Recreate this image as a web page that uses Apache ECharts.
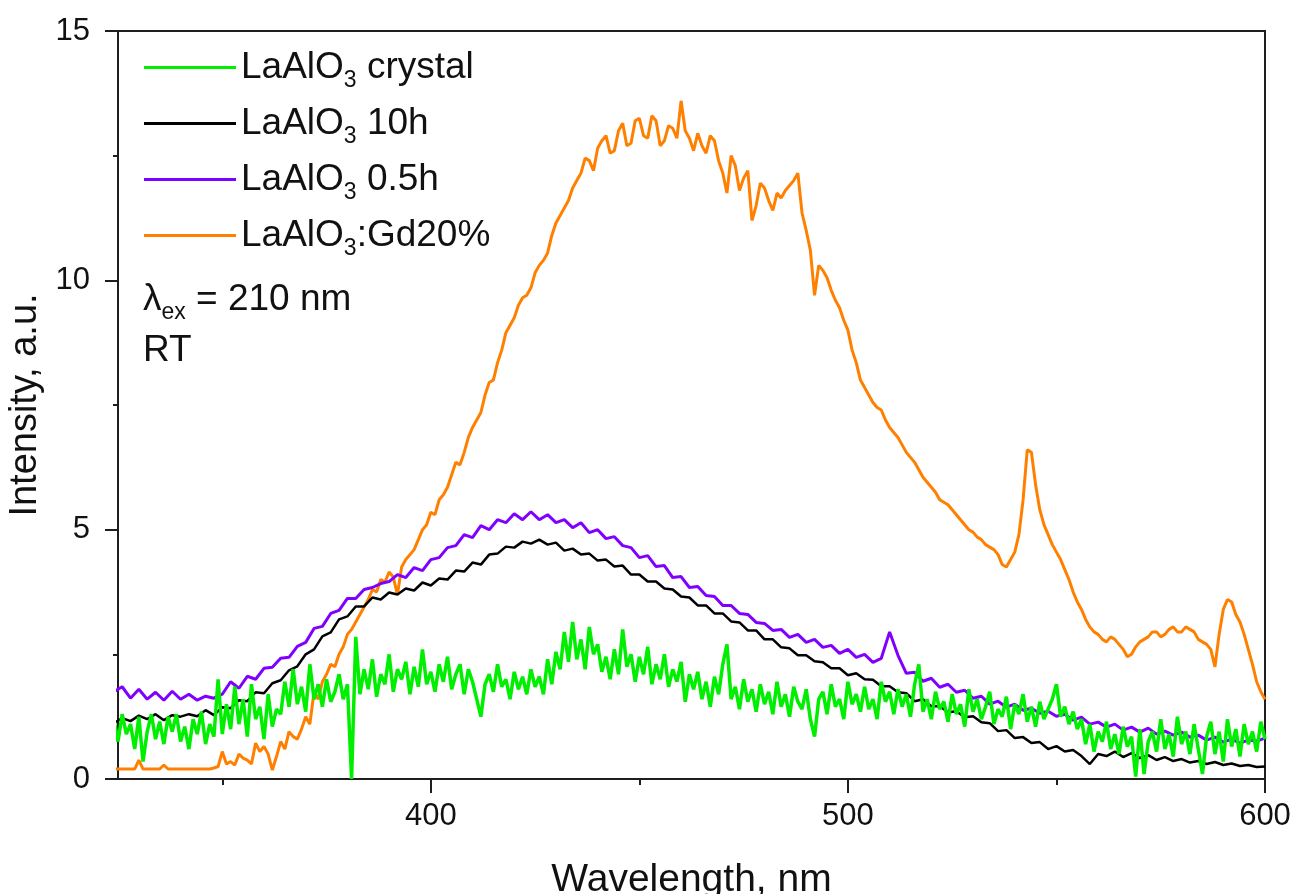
<!DOCTYPE html>
<html><head><meta charset="utf-8">
<script src="https://cdn.jsdelivr.net/npm/echarts@6/dist/echarts.min.js"></script>
<style>html,body{margin:0;padding:0;background:#fff}#chart{width:1295px;height:894px}</style>
</head><body><div id="chart"></div>
<script>
// Wavelength grids (nm): fine = 324,325,...,600 ; coarse = 324,326,...,600
const WL_START = 324, FINE_STEP = 1, COARSE_STEP = 2;

// LaAlO3 crystal (fine grid)
const crystal = [
  1.2,0.75,1.3,0.9,1.1,0.6,1.25,0.35,0.95,1.3,
  0.8,1.15,0.7,1.25,0.95,1.3,0.75,1.05,0.6,1.2,
  0.9,1.35,0.7,1.1,0.85,2.0,0.9,1.5,1.0,1.85,
  1.1,1.6,0.85,1.9,1.2,1.45,0.8,1.7,1.05,1.4,
  1.3,1.95,1.45,2.2,1.5,1.85,1.35,2.3,1.6,1.9,
  1.45,2.0,1.55,1.75,2.1,1.6,1.9,0.0,2.85,1.7,
  2.2,1.8,2.4,1.65,2.1,1.9,2.5,1.75,2.2,2.0,
  2.35,1.7,2.25,1.85,2.6,1.9,2.15,1.75,2.3,1.95,
  2.45,1.8,2.1,2.3,1.7,2.2,1.95,1.6,1.25,1.9,
  2.1,1.75,2.3,1.85,2.0,1.6,2.15,1.8,2.05,1.7,
  2.2,1.85,2.05,1.7,2.4,1.9,2.55,2.2,2.95,2.35,
  3.15,2.4,2.8,2.2,3.05,2.5,2.7,2.15,2.45,2.0,
  2.6,2.1,3.0,2.25,2.5,1.95,2.45,2.1,2.65,1.9,
  2.3,2.0,2.5,1.85,2.2,1.95,2.35,1.55,2.1,1.8,
  2.15,1.6,1.95,1.45,2.05,1.7,2.3,2.7,1.6,1.85,
  1.4,2.0,1.55,1.8,1.35,1.9,1.5,1.75,1.3,1.95,
  1.45,1.7,1.25,1.85,1.55,1.4,1.8,1.2,0.85,1.6,
  1.75,1.3,1.9,1.45,1.6,1.2,1.95,1.5,1.7,1.35,
  1.85,1.4,1.6,1.2,1.95,1.55,1.75,1.3,1.8,1.45,
  1.7,1.25,1.9,2.3,1.35,1.6,1.2,1.75,1.4,1.55,
  1.15,1.7,1.3,1.5,1.05,1.8,1.35,1.6,1.2,1.45,
  1.75,1.1,1.4,1.25,1.65,1.0,1.5,1.3,1.7,1.15,
  1.45,1.05,1.55,1.2,1.4,1.6,1.9,1.25,1.45,1.1,
  1.35,1.0,1.2,0.7,1.1,0.55,0.95,0.75,1.15,0.6,
  0.9,0.5,1.05,0.65,0.85,0.05,1.0,0.1,0.75,0.95,
  0.55,1.2,0.6,0.9,0.45,1.25,0.7,0.95,0.5,1.1,
  0.6,0.1,0.85,1.15,0.5,0.95,0.35,1.2,0.65,1.0,
  0.45,1.1,0.7,0.95,0.55,1.15,0.8
];

// LaAlO3 10h (coarse grid)
const h10 = [
  1.12,1.22,1.16,1.27,1.2,1.3,1.18,1.28,1.25,1.3,
  1.26,1.38,1.28,1.44,1.42,1.58,1.56,1.74,1.72,1.92,
  1.98,2.18,2.26,2.5,2.6,2.86,2.94,3.2,3.26,3.46,
  3.46,3.64,3.6,3.74,3.7,3.82,3.78,3.94,3.88,4.02,
  4.0,4.18,4.16,4.34,4.3,4.5,4.52,4.66,4.64,4.76,
  4.72,4.8,4.7,4.74,4.58,4.62,4.5,4.52,4.38,4.4,
  4.26,4.28,4.1,4.1,3.96,3.96,3.82,3.8,3.66,3.64,
  3.48,3.48,3.32,3.32,3.16,3.14,2.98,2.98,2.8,2.8,
  2.64,2.62,2.48,2.48,2.36,2.34,2.22,2.22,2.08,2.12,
  2.0,1.99,1.86,1.86,1.74,1.72,1.56,1.6,1.46,1.46,
  1.34,1.36,1.24,1.26,1.14,1.12,0.96,0.98,0.82,0.84,
  0.72,0.74,0.6,0.66,0.55,0.58,0.46,0.3,0.5,0.46,
  0.55,0.44,0.52,0.42,0.48,0.38,0.44,0.36,0.4,0.33,
  0.36,0.3,0.34,0.28,0.31,0.26,0.28,0.24,0.25
];

// LaAlO3 0.5h (coarse grid)
const h05 = [
  1.75,1.85,1.62,1.8,1.6,1.74,1.58,1.76,1.6,1.7,
  1.58,1.66,1.62,1.7,1.95,1.82,2.06,2.0,2.22,2.24,
  2.42,2.44,2.66,2.74,3.02,3.06,3.32,3.38,3.62,3.62,
  3.8,3.84,3.92,3.96,4.1,4.04,4.24,4.18,4.4,4.44,
  4.64,4.68,4.9,4.84,5.08,5.0,5.2,5.14,5.32,5.2,
  5.36,5.2,5.3,5.14,5.2,5.04,5.14,4.94,5.0,4.82,
  4.86,4.68,4.64,4.44,4.48,4.26,4.28,4.04,4.06,3.84,
  3.86,3.68,3.66,3.48,3.48,3.32,3.3,3.14,3.12,2.98,
  3.0,2.84,2.9,2.74,2.8,2.64,2.68,2.52,2.6,2.44,
  2.5,2.34,2.42,2.95,2.48,2.12,2.14,1.96,2.02,1.84,
  1.9,1.74,1.78,1.62,1.66,1.5,1.56,1.44,1.5,1.38,
  1.42,1.32,1.36,1.26,1.3,1.18,1.24,1.1,1.14,1.04,
  1.1,0.98,1.04,0.94,1.02,0.9,0.96,0.88,0.94,0.84,
  0.88,0.78,0.84,0.74,0.8,0.72,0.78,0.76,0.82
];

// LaAlO3:Gd20% (fine grid)
const gd20 = [
  0.2,0.2,0.2,0.2,0.2,0.2,0.38,0.2,0.2,0.2,
  0.2,0.2,0.28,0.2,0.2,0.2,0.2,0.2,0.2,0.2,
  0.2,0.2,0.2,0.2,0.22,0.25,0.55,0.3,0.35,0.28,
  0.5,0.42,0.38,0.3,0.72,0.55,0.65,0.5,0.18,0.45,
  0.75,0.6,0.95,0.85,0.8,1.0,1.25,1.1,1.75,1.6,
  1.95,2.1,2.3,2.25,2.5,2.65,2.9,3.0,3.15,3.3,
  3.45,3.6,3.8,3.75,4.0,3.95,4.15,4.05,3.7,4.25,
  4.4,4.5,4.6,4.8,5.0,5.1,5.35,5.3,5.6,5.7,
  5.85,6.1,6.35,6.3,6.55,6.85,7.05,7.2,7.35,7.7,
  7.95,8.0,8.35,8.6,8.95,9.1,9.25,9.5,9.65,9.7,
  9.85,10.15,10.3,10.4,10.55,10.9,11.15,11.3,11.45,11.6,
  11.85,12.0,12.15,12.45,12.4,12.2,12.65,12.8,12.9,12.55,
  12.6,13.0,13.15,12.7,12.75,13.2,13.25,12.9,12.85,13.3,
  13.2,12.7,12.8,13.1,13.05,12.85,13.6,13.0,12.85,12.6,
  12.95,12.7,12.55,12.9,12.8,12.4,12.15,11.75,12.5,12.3,
  11.8,12.05,12.2,11.2,11.5,11.95,11.85,11.6,11.4,11.75,
  11.65,11.8,11.9,12.0,12.15,11.35,11.0,10.6,9.7,10.3,
  10.2,10.05,9.8,9.6,9.45,9.2,9.0,8.6,8.35,8.0,
  7.85,7.7,7.55,7.45,7.4,7.2,7.05,6.95,6.85,6.7,
  6.55,6.45,6.35,6.2,6.05,5.95,5.85,5.75,5.6,5.55,
  5.5,5.4,5.3,5.2,5.1,5.0,4.95,4.85,4.8,4.7,
  4.65,4.6,4.5,4.3,4.25,4.4,4.55,4.9,5.6,6.6,
  6.55,5.9,5.4,5.1,4.9,4.7,4.55,4.4,4.2,4.0,
  3.75,3.55,3.4,3.2,3.05,2.95,2.9,2.8,2.75,2.85,
  2.8,2.7,2.6,2.45,2.5,2.65,2.75,2.8,2.85,2.95,
  2.95,2.85,2.9,3.0,3.05,2.95,2.95,3.05,3.0,2.95,
  2.8,2.75,2.7,2.6,2.25,2.9,3.4,3.6,3.55,3.3,
  3.15,2.9,2.6,2.3,1.95,1.75,1.6
];

const seriesNames = ['LaAlO3 crystal', 'LaAlO3 10h', 'LaAlO3 0.5h', 'LaAlO3:Gd20%'];
const xMajorTicks = [400, 500, 600];
const xMinorTicks = [350, 450, 550];

const pairs = (vals, step) => vals.map((v, i) => [WL_START + i * step, v]);

const FONT = 'Liberation Sans, Arial, sans-serif';
const AX = '#1e1e1e';

const chart = echarts.init(document.getElementById('chart'), null, {renderer: 'canvas'});
chart.setOption({
  animation: false,
  backgroundColor: '#fff',
  grid: {left: 118, right: 30, top: 31, bottom: 115, outerBoundsMode: 'none', containLabel: false,
    show: true, borderColor: AX, borderWidth: 2, backgroundColor: 'transparent'},
  xAxis: [{
    type: 'value', min: 325, max: 600,
    name: 'Wavelength, nm', nameLocation: 'middle', nameGap: 82,
    nameTextStyle: {fontSize: 39, fontFamily: FONT, color: '#111'},
    axisLine: {show: true, onZero: false, lineStyle: {color: AX, width: 2}},
    axisTick: {show: true, length: 14, customValues: xMajorTicks, lineStyle: {color: AX, width: 2}},
    axisLabel: {show: true, customValues: xMajorTicks, margin: 22, fontSize: 31, fontFamily: FONT, color: '#111'},
    splitLine: {show: false}
  }, {
    type: 'value', min: 325, max: 600, position: 'bottom',
    axisLine: {show: false},
    axisTick: {show: true, length: 6, customValues: xMinorTicks, lineStyle: {color: AX, width: 2}},
    axisLabel: {show: false},
    splitLine: {show: false}
  }],
  yAxis: {
    type: 'value', min: 0, max: 15, interval: 5,
    name: 'Intensity, a.u.', nameLocation: 'middle', nameGap: 66,
    nameTextStyle: {fontSize: 38, fontFamily: FONT, color: '#111'},
    axisLine: {show: true, onZero: false, lineStyle: {color: AX, width: 2}},
    axisTick: {show: true, length: 13, lineStyle: {color: AX, width: 2}},
    minorTick: {show: true, splitNumber: 2, length: 5, lineStyle: {color: AX, width: 2}},
    axisLabel: {margin: 28, fontSize: 31, fontFamily: FONT, color: '#111'},
    splitLine: {show: false}
  },
  legend: {
    orient: 'vertical', left: 144, top: 43, padding: 0, itemGap: 7,
    itemWidth: 92, itemHeight: 3, icon: 'rect',
    data: seriesNames,
    formatter: n => n.replace('LaAlO3', 'LaAlO{sub|3}'),
    textStyle: {fontSize: 37, fontFamily: FONT, color: '#111', lineHeight: 40,
      rich: {sub: {fontSize: 23, fontFamily: FONT, color: '#111', lineHeight: 14, padding: [26, 0, 0, 0]}}}
  },
  graphic: [
    {type: 'text', left: 143, top: 275, style: {
      text: '{g|λ}{s|ex}{n| = 210 nm}',
      rich: {
        g: {fontSize: 37, fontFamily: FONT, fill: '#111', lineHeight: 40},
        s: {fontSize: 23, fontFamily: FONT, fill: '#111', lineHeight: 14, padding: [26, 0, 0, 0]},
        n: {fontSize: 37, fontFamily: FONT, fill: '#111', lineHeight: 40}
      }}},
    {type: 'text', left: 143, top: 332, style: {text: 'RT', fontSize: 37, fontFamily: FONT, fill: '#111'}}
  ],
  series: [
    {name: seriesNames[3], type: 'line', data: pairs(gd20, FINE_STEP), showSymbol: false, symbol: 'none', color: '#ff8000', lineStyle: {width: 3}, z: 2},
    {name: seriesNames[2], type: 'line', data: pairs(h05, COARSE_STEP), showSymbol: false, symbol: 'none', color: '#8000ff', lineStyle: {width: 3}, z: 3},
    {name: seriesNames[1], type: 'line', data: pairs(h10, COARSE_STEP), showSymbol: false, symbol: 'none', color: '#000000', lineStyle: {width: 2.5}, z: 4},
    {name: seriesNames[0], type: 'line', data: pairs(crystal, FINE_STEP), showSymbol: false, symbol: 'none', color: '#00ee00', lineStyle: {width: 3.5}, z: 5}
  ]
});
</script>
</body></html>
